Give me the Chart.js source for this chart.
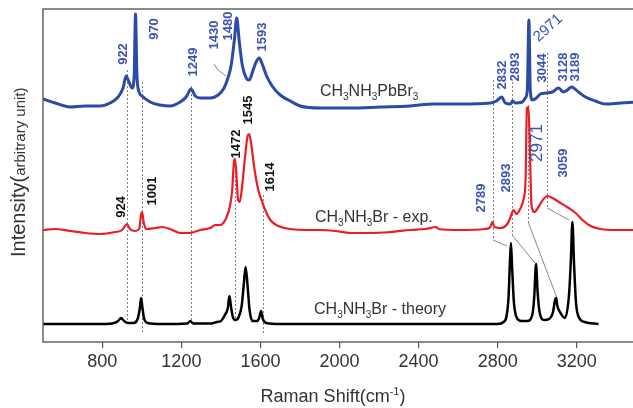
<!DOCTYPE html>
<html>
<head>
<meta charset="utf-8">
<script src="https://cdn.jsdelivr.net/npm/chart.js@4.4.0/dist/chart.umd.min.js"></script>
<style>
html, body { margin: 0; padding: 0; background: #fff; overflow: hidden; }
#wrap { width: 633px; height: 408px; overflow: hidden; }
canvas { display: block; }
</style>
</head>
<body>
<div id="wrap"><canvas id="ramanChart" width="640" height="408"></canvas></div>
<script>
// Raman spectra (intensity in arbitrary units)
const xTicks = [800, 1200, 1600, 2000, 2400, 2800, 3200];

const pbbr3Shift = [500,561,637,713,789,839,880,905,920,935,951,961,968,975,986,1001,1042,1092,1143,1194,1224,1249,1270,1295,1346,1386,1416,1437,1452,1468,1480,1492,1508,1528,1543,1563,1578,1594,1609,1629,1659,1700,1751,1801,1903,2054,2206,2358,2475,2611,2763,2794,2820,2839,2865,2875,2890,2925,2940,2950,2958,2965,2976,2996,3016,3047,3077,3108,3133,3153,3173,3209,3244,3295,3346,3422,3520];
const pbbr3Int   = [243,239,235,236,236,239,245,254,266,260,254,265,328,268,250,246,240,237,236,240,245,253,246,244,244,247,254,265,277,302,324,302,277,264,262,272,280,284,278,267,256,247,241,236,234,234,235,236,238,238,239,241,245,239,238,241,239,240,244,252,322,252,242,244,248,249,250,254,250,252,255,250,245,241,238,239,240];

const expShift = [500,561,637,713,789,865,900,915,925,940,966,986,996,1001,1009,1021,1067,1103,1143,1194,1244,1295,1346,1371,1396,1427,1447,1457,1467,1472,1480,1487,1495,1508,1523,1535,1543,1554,1569,1589,1609,1624,1650,1690,1751,1827,1903,1978,2054,2156,2257,2358,2434,2490,2500,2611,2738,2763,2773,2784,2814,2849,2865,2880,2895,2916,2930,2941,2948,2956,2963,2971,2986,3006,3032,3052,3077,3118,3159,3194,3229,3270,3320,3397,3520];
const expInt   = [112,113,111,109,108,110,112,116,118,113,111,113,127,130,120,113,114,115,113,109,109,112,114,117,117,124,137,152,182,183,162,142,140,157,187,206,208,197,174,152,140,132,122,116,113,112,112,111,109,109,110,112,113,115,113,112,113,115,120,115,114,118,125,132,128,134,142,162,234,235,192,137,130,135,143,146,144,139,134,129,122,116,113,112,112];

const theoryShift = [500,800,860,880,895,910,930,960,980,990,996,1003,1012,1030,1100,1230,1245,1260,1350,1380,1400,1420,1435,1443,1452,1462,1475,1490,1505,1515,1525,1535,1545,1560,1585,1595,1603,1612,1630,1700,2800,2830,2845,2855,2862,2867,2873,2882,2895,2920,2950,2975,2985,2994,3002,3012,3035,3060,3080,3090,3096,3102,3115,3140,3160,3170,3178,3186,3196,3210,3240,3310];
const theoryInt   = [18,18,19,21,24,21,19,19,24,34,44,34,23,19,18,18.5,21,18.5,18.5,20,21,27,34,46,34,24,22,25,36,56,75,56,32,21,21,25,31,23,19,18,18,20,26,45,80,99,75,40,25,21,21,27,45,78,50,30,22,23,30,42,44,36,30,24,45,80,120,80,40,25,20,18];

// dotted guide lines linking the peaks of the three spectra
const guideShift  = [925, 1001, 1249, 1471, 1612, 2775, 2873, 2954, 3050];
const guideTop    = [272, 260, 256, 182, 147, 262, 260, 237, 289];
const guideBottom = [17, 9, 19, 22, 9, 102, 107, 120, 134];

// solid leader lines (shift, intensity pairs)
const leaders = [
    [[2775, 102], [2847, 96]],
    [[2873, 107], [2989, 79]],
    [[2954, 120], [3100, 44]],
    [[3050, 134], [3161, 122]],
    [[1365, 278], [1385, 272], [1426, 266]]
];

const BLUE = "#2d4aa6";
const BLUE_TXT = "#3a52b2";
const RED = "#ec1c24";
const FONT = "'Liberation Sans', Arial, sans-serif";

// peak labels: text, shift, intensity, colour, bold, size, angle (deg)
const peakLabels = [
    ["922", 905, 288, BLUE_TXT, true, 13, -90],
    ["970", 1062, 313, BLUE_TXT, true, 13, -90],
    ["1249", 1259, 280, BLUE_TXT, true, 13, -90],
    ["1430", 1365, 307, BLUE_TXT, true, 13, -90],
    ["1480", 1436, 316, BLUE_TXT, true, 13, -90],
    ["1593", 1608, 305, BLUE_TXT, true, 13, -90],
    ["2832", 2822, 267, BLUE_TXT, true, 13, -90],
    ["2893", 2888, 275, BLUE_TXT, true, 13, -90],
    ["2971", 3055, 314, BLUE_TXT, false, 15, -42],
    ["3044", 3024, 274, BLUE_TXT, true, 13, -90],
    ["3128", 3131, 275, BLUE_TXT, true, 13, -90],
    ["3189", 3191, 275, BLUE_TXT, true, 13, -90],
    ["924", 895, 135, "#111", true, 13, -90],
    ["1001", 1051, 151, "#111", true, 13, -90],
    ["1472", 1476, 198, "#111", true, 13, -90],
    ["1545", 1537, 232, "#111", true, 13, -90],
    ["1614", 1648, 165, "#111", true, 13, -90],
    ["2789", 2716, 144, BLUE_TXT, true, 13, -90],
    ["2893", 2842, 164, BLUE_TXT, true, 13, -90],
    ["2971", 2999, 199, BLUE_TXT, false, 17, -90],
    ["3059", 3131, 179, BLUE_TXT, true, 13, -90]
];

// spectrum names ("_3" = subscript), left start shift, intensity
const seriesNames = [
    ["CH_3NH_3PbBr_3", 1901, 250],
    ["CH_3NH_3Br - exp.", 1876, 124],
    ["CH_3NH_3Br - theory", 1871, 32]
];

function toPoints(xs, ys) {
    return xs.map((x, i) => ({ x: x, y: ys[i] }));
}

function drawRich(ctx, parts, x, y, size) {
    let cx = x;
    parts.forEach(p => {
        const sz = p.s ? Math.round(size * 0.62) : size;
        ctx.font = sz + "px " + FONT;
        const dy = p.s === 1 ? size * 0.32 : (p.s === -1 ? -size * 0.4 : 0);
        ctx.fillText(p.t, cx, y + dy);
        cx += ctx.measureText(p.t).width;
    });
    return cx - x;
}

function parseSub(text) {
    return text.split(/(_\d)/).filter(t => t).map(t =>
        t[0] === "_" ? { t: t.slice(1), s: 1 } : { t: t, s: 0 });
}

const annotations = {
    id: "annotations",
    beforeDatasetsDraw(chart) {
        const ctx = chart.ctx;
        const xs = chart.scales.x, ys = chart.scales.y;
        ctx.save();
        ctx.strokeStyle = "#808080";
        ctx.lineWidth = 1;
        ctx.setLineDash([2, 2]);
        guideShift.forEach((g, i) => {
            const px = Math.round(xs.getPixelForValue(g)) + 0.5;
            ctx.beginPath();
            ctx.moveTo(px, ys.getPixelForValue(guideTop[i]));
            ctx.lineTo(px, ys.getPixelForValue(guideBottom[i]));
            ctx.stroke();
        });
        ctx.setLineDash([]);
        ctx.strokeStyle = "#888";
        leaders.forEach(line => {
            ctx.beginPath();
            line.forEach((p, j) => {
                const px = xs.getPixelForValue(p[0]), py = ys.getPixelForValue(p[1]);
                if (j === 0) ctx.moveTo(px, py); else ctx.lineTo(px, py);
            });
            ctx.stroke();
        });
        ctx.restore();
    },
    afterDraw(chart) {
        const ctx = chart.ctx;
        const xs = chart.scales.x, ys = chart.scales.y;
        const a = chart.chartArea;
        ctx.save();
        // frame
        ctx.strokeStyle = "#666";
        ctx.lineWidth = 1.5;
        ctx.strokeRect(a.left, a.top, a.right - a.left, a.bottom - a.top);

        // peak labels
        peakLabels.forEach(l => {
            const px = xs.getPixelForValue(l[1]), py = ys.getPixelForValue(l[2]);
            ctx.save();
            ctx.translate(px, py);
            ctx.rotate(l[6] * Math.PI / 180);
            ctx.fillStyle = l[3];
            ctx.font = (l[4] ? "bold " : "") + l[5] + "px " + FONT;
            ctx.textAlign = "center";
            ctx.textBaseline = "middle";
            ctx.fillText(l[0], 0, 0);
            ctx.restore();
        });

        // spectrum names
        ctx.fillStyle = "#333";
        ctx.textAlign = "left";
        ctx.textBaseline = "middle";
        seriesNames.forEach(n => {
            drawRich(ctx, parseSub(n[0]), xs.getPixelForValue(n[1]), ys.getPixelForValue(n[2]), 16);
        });

        // x axis title
        ctx.textBaseline = "alphabetic";
        const xParts = [{ t: "Raman Shift(cm", s: 0 }, { t: "-1", s: -1 }, { t: ")", s: 0 }];
        ctx.globalAlpha = 0;
        const w = drawRich(ctx, xParts, 0, -100, 18);
        ctx.globalAlpha = 1;
        drawRich(ctx, xParts, 333 - w / 2, 402, 18);

        // y axis title
        ctx.translate(25, 257);
        ctx.rotate(-Math.PI / 2);
        ctx.font = "20px " + FONT;
        ctx.fillText("Intensity(", 0, 0);
        const w1 = ctx.measureText("Intensity(").width;
        ctx.font = "15px " + FONT;
        ctx.fillText("arbitrary unit)", w1, 0);
        ctx.restore();
    }
};

document.addEventListener("DOMContentLoaded", () => {
    const ctx = document.getElementById("ramanChart").getContext("2d");

    window.ramanChart = new Chart(ctx, {
        type: "line",
        data: {
            datasets: [
                {
                    label: "CH3NH3PbBr3",
                    data: toPoints(pbbr3Shift, pbbr3Int),
                    borderColor: BLUE,
                    borderWidth: 3
                },
                {
                    label: "CH3NH3Br - exp.",
                    data: toPoints(expShift, expInt),
                    borderColor: RED,
                    borderWidth: 2.2
                },
                {
                    label: "CH3NH3Br - theory",
                    data: toPoints(theoryShift, theoryInt),
                    borderColor: "#000",
                    borderWidth: 2.5
                }
            ]
        },
        options: {
            responsive: false,
            animation: false,
            devicePixelRatio: 1,
            layout: { padding: { top: 9, right: 0, left: 0, bottom: 0 } },
            elements: {
                point: { radius: 0 },
                line: { cubicInterpolationMode: "monotone", fill: false }
            },
            plugins: {
                legend: { display: false },
                tooltip: { enabled: false }
            },
            scales: {
                x: {
                    type: "linear",
                    min: 500,
                    max: 3520,
                    afterBuildTicks: axis => { axis.ticks = xTicks.map(v => ({ value: v })); },
                    ticks: {
                        font: { family: FONT, size: 18 },
                        color: "#333",
                        padding: 3,
                        maxRotation: 0,
                        callback: v => String(v)
                    },
                    grid: { drawOnChartArea: false, drawTicks: true, tickLength: 6, color: "#555", lineWidth: 1.2 },
                    border: { display: false },
                    afterFit: s => { s.height = 66; }
                },
                y: {
                    type: "linear",
                    min: 0,
                    max: 333,
                    ticks: { display: false },
                    grid: { display: false },
                    border: { display: false },
                    afterFit: s => { s.width = 43; }
                }
            }
        },
        plugins: [annotations]
    });
});
</script>
</body>
</html>
